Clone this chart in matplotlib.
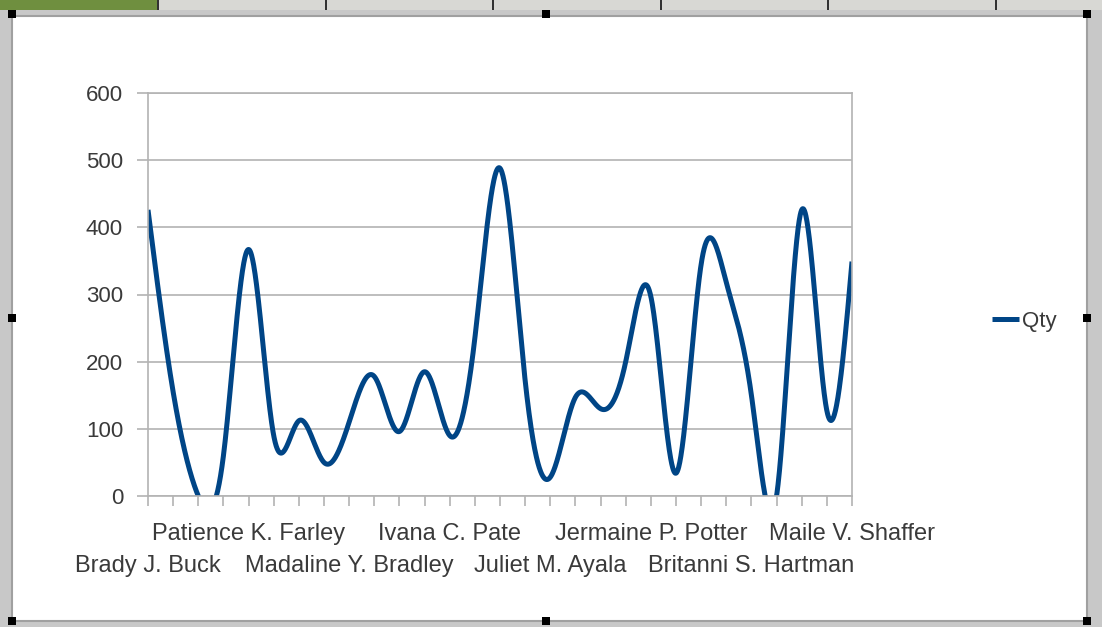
import numpy as np
import matplotlib.pyplot as plt
from matplotlib.patches import Rectangle

# Qty per person (29 rows, only every 4th name is printed on the axis)
qty = [426, 155, 0, 60, 367, 90, 112, 50, 110, 178, 96, 185, 90, 235, 488,
       172, 28, 147, 130, 200, 297, 34, 345, 318, 150, 0, 426, 127, 349]
shown_names = ["Brady J. Buck", "Patience K. Farley", "Madaline Y. Bradley",
               "Ivana C. Pate", "Juliet M. Ayala", "Jermaine P. Potter",
               "Britanni S. Hartman", "Maile V. Shaffer"]
label_step = 4
yticks = [0, 100, 200, 300, 400, 500, 600]

LINE = "#004586"
GRID = "#b3b3b3"
TXT = "#3a3a3a"


def natural_spline(x, y, xs):
    x = np.asarray(x, float)
    y = np.asarray(y, float)
    n = len(x)
    h = np.diff(x)
    A = np.zeros((n, n))
    b = np.zeros(n)
    A[0, 0] = 1
    A[-1, -1] = 1
    for i in range(1, n - 1):
        A[i, i - 1] = h[i - 1]
        A[i, i] = 2 * (h[i - 1] + h[i])
        A[i, i + 1] = h[i]
        b[i] = 6 * ((y[i + 1] - y[i]) / h[i] - (y[i] - y[i - 1]) / h[i - 1])
    M = np.linalg.solve(A, b)
    k = np.clip(np.searchsorted(x, xs) - 1, 0, n - 2)
    t0 = x[k + 1] - xs
    t1 = xs - x[k]
    hk = h[k]
    return (M[k] * t0**3 / (6 * hk) + M[k + 1] * t1**3 / (6 * hk)
            + (y[k] / hk - M[k] * hk / 6) * t0
            + (y[k + 1] / hk - M[k + 1] * hk / 6) * t1)


plt.rcParams['font.family'] = ['Liberation Sans', 'DejaVu Sans']

fig = plt.figure(figsize=(11.02, 6.27), dpi=100)
W, H = 1102, 627

# spreadsheet surroundings
fig.patches.append(Rectangle((0, 0), 1, 1, transform=fig.transFigure,
                             fc="#c8c8c8", ec="none", zorder=-10))
fig.patches.append(Rectangle((0, 1 - 10 / H), 1, 10 / H, transform=fig.transFigure,
                             fc="#d8d8d4", ec="none", zorder=-9))
fig.patches.append(Rectangle((0, 1 - 10 / H), 157 / W, 10 / H, transform=fig.transFigure,
                             fc="#6f8f3f", ec="none", zorder=-8))
for xc in [157, 325, 492, 660, 827, 995]:
    fig.patches.append(Rectangle((xc / W, 1 - 10 / H), 1.5 / W, 10 / H,
                                 transform=fig.transFigure, fc="#333333",
                                 ec="none", zorder=-8))
fig.patches.append(Rectangle((12 / W, 6 / H), (1087 - 12) / W, (621 - 16) / H,
                             transform=fig.transFigure, fc="white", ec="#a0a0a0",
                             lw=1.5, zorder=-7))
for (hx, hy) in [(12, 14), (546, 14), (1087, 14), (12, 318), (1087, 318),
                 (12, 621), (546, 621), (1087, 621)]:
    fig.patches.append(Rectangle(((hx - 4) / W, (H - hy - 4) / H), 8 / W, 8 / H,
                                 transform=fig.transFigure, fc="black",
                                 ec="none", zorder=5))

ax = fig.add_axes([148 / W, 131 / H, 704 / W, 403 / H])
n = len(qty)
xi = np.arange(n)
xs = np.linspace(0, n - 1, 2000)
ax.plot(xs, natural_spline(xi, qty, xs), color=LINE, lw=3.6,
        solid_capstyle="butt", label="Qty")

ax.set_xlim(0, n - 1)
ax.set_ylim(0, 600)
ax.set_yticks(yticks)
ax.yaxis.grid(True, color=GRID, lw=1.2)
ax.set_axisbelow(True)
for s in ax.spines.values():
    s.set_color(GRID)
    s.set_linewidth(1.2)

ax.set_xticks(xi)
ax.set_xticklabels([])
ax.tick_params(axis="x", length=7, width=1.2, color=GRID)
ax.tick_params(axis="y", length=8, width=1.2, color=GRID, pad=10,
               labelsize=16, labelcolor=TXT)

# staggered category names: odd groups on the first row, even on the second
for j, name in enumerate(shown_names):
    row_off = -19.5 if j % 2 == 1 else -42.5
    ax.annotate(name, xy=(j * label_step, 0), xycoords="data",
                xytext=(0, row_off), textcoords="offset points",
                ha="center", va="top", fontsize=17, color=TXT,
                annotation_clip=False)

fig.legend(loc="center left", bbox_to_anchor=(972 / W, 1 - 321 / H),
           frameon=False, fontsize=16, handlelength=1.2, handletextpad=0.15,
           labelcolor=TXT)

fig.savefig("out.png", dpi=100)
